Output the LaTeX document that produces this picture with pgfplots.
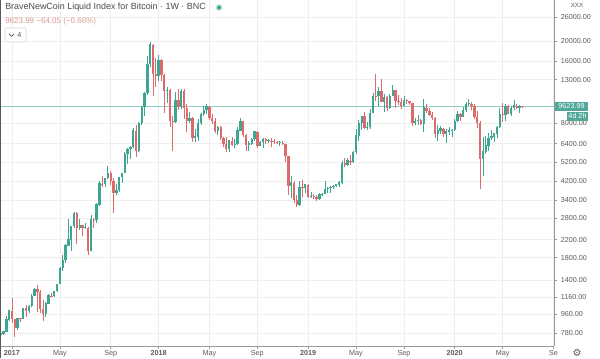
\documentclass[border=0pt]{standalone}
\usepackage{pgfplots}
\pgfplotsset{compat=1.18}
\usepackage{pgfplotstable}
\usepackage{fontspec}
\setmainfont{Liberation Sans}
\newfontfamily\dejavu{DejaVu Sans}
\definecolor{upc}{HTML}{3DA592}
\definecolor{dnc}{HTML}{DE6B6B}
\definecolor{gridc}{HTML}{EEEEEE}
\definecolor{axisc}{HTML}{9A9A9A}
\definecolor{labc}{HTML}{5A5A5A}
\definecolor{titlec}{HTML}{4A4A4A}
\definecolor{pricec}{HTML}{92CFC3}
\definecolor{boxc}{HTML}{4FA899}
\definecolor{salmon}{HTML}{D99A8E}

\pgfplotstableread{
i o h l c
-4 766 780 752 774
-3 774 796 765 790
-2 790 940 788 905
-1 905 1000 890 998
0 998 1150 870 910
1 910 915 750 820
2 820 920 810 920
3 920 925 880 915
4 915 1035 915 1025
5 1025 1065 930 1000
6 1000 1060 975 1050
7 1050 1200 1040 1175
8 1175 1290 1170 1270
9 1270 1330 980 1230
10 1230 1260 970 1020
11 1020 1120 890 965
12 965 1095 930 1080
13 1080 1200 1075 1180
14 1180 1220 1160 1170
15 1170 1250 1165 1245
16 1245 1350 1230 1340
17 1340 1620 1340 1600
18 1600 1850 1560 1750
19 1750 2100 1700 2060
20 2060 2760 2050 2200
21 2200 2550 1950 2550
22 2550 2980 2500 2960
23 2960 2980 2100 2500
24 2500 2780 2450 2580
25 2580 2600 2300 2500
26 2500 2650 2480 2510
27 2510 2530 1850 1930
28 1930 2900 1930 2750
29 2750 2800 2500 2730
30 2730 3300 2650 3250
31 3250 4200 3200 4100
32 4100 4480 3950 4080
33 4080 4380 3950 4350
34 4350 4980 4300 4600
35 4600 4700 4050 4200
36 4200 4350 2970 3700
37 3700 4100 3600 3800
38 3800 4400 3750 4400
39 4400 4600 4150 4590
40 4590 5850 4590 5700
41 5700 6100 5100 6000
42 6000 6200 5400 6150
43 6150 7600 6100 7400
44 7400 7900 5500 5900
45 5900 8100 5800 8000
46 8000 9700 7900 9600
47 9600 11400 8700 11200
48 11200 17000 11000 15500
49 15500 19800 15000 19200
50 19200 19300 10800 13900
51 13900 16500 12000 13500
52 13500 17200 12800 16200
53 16200 16300 12800 13700
54 13700 13900 9000 11500
55 11500 12000 10000 11600
56 11600 11800 7700 8200
57 8200 8700 5900 8100
58 8100 11300 8000 10400
59 10400 11700 9300 9600
60 9600 11700 9400 11500
61 11500 11700 8400 9500
62 9500 9900 7300 8200
63 8200 9100 8000 8500
64 8500 8600 6500 6800
65 6800 7500 6500 6900
66 6900 8400 6600 8000
67 8000 9000 7900 8900
68 8900 9700 8700 9300
69 9300 9950 8900 9650
70 9650 9700 8350 8500
71 8500 8900 7950 8200
72 8200 8500 7200 7350
73 7350 7750 7050 7700
74 7700 7750 6650 6800
75 6800 6850 6150 6400
76 6400 6850 5850 6000
77 6000 6650 5800 6600
78 6600 6850 6250 6300
79 6300 6700 6100 6350
80 6350 7700 6300 7400
81 7400 8500 7350 8200
82 8200 8250 6900 7050
83 7050 7150 5900 6300
84 6300 6600 5900 6400
85 6400 6800 6300 6700
86 6700 7400 6600 7300
87 7300 7400 6100 6250
88 6250 6600 6200 6500
89 6500 6800 6100 6700
90 6700 6800 6400 6600
91 6600 6700 6450 6620
92 6620 6800 6150 6550
93 6550 6750 6400 6500
94 6500 6550 6400 6450
95 6450 6550 6250 6470
96 6470 6550 6300 6350
97 6350 6400 5200 5550
98 5550 5600 3600 4000
99 4000 4450 3500 4150
100 4150 4200 3300 3400
101 3400 3600 3150 3250
102 3250 4200 3200 3950
103 3950 4250 3550 3900
104 3900 4100 3700 4050
105 4050 4100 3500 3550
106 3550 3750 3500 3560
107 3560 3650 3450 3540
108 3540 3600 3380 3450
109 3450 3700 3400 3650
110 3650 3700 3560 3660
111 3660 4200 3650 3850
112 3850 3950 3700 3900
113 3900 3980 3700 3950
114 3950 4050 3850 4000
115 4000 4100 3950 4050
116 4050 4200 3950 4150
117 4150 5300 4100 5150
118 5150 5450 4950 5050
119 5050 5450 5000 5300
120 5300 5650 5050 5200
121 5200 5900 5150 5800
122 5800 7500 5700 7000
123 7000 8300 6600 8000
124 8000 8700 7450 8700
125 8700 9100 7500 7650
126 7650 8100 7450 7700
127 7700 9350 7550 8950
128 8950 11200 8950 10850
129 10850 13850 10300 10800
130 10800 12000 9700 11450
131 11450 13100 11000 10200
132 10200 11100 9100 10750
133 10750 10800 9150 9500
134 9500 11100 9400 10800
135 10800 12300 10800 11550
136 11550 11550 9500 10300
137 10300 10950 9800 10150
138 10150 10600 9350 9700
139 9700 10900 9700 10350
140 10350 10450 9900 10300
141 10300 10300 9850 10000
142 10000 10050 7750 8050
143 8050 8500 7900 8200
144 8200 8750 7900 8300
145 8300 8400 7900 7950
146 7950 10500 7300 9550
147 9550 9900 8950 9200
148 9200 9550 8700 8800
149 8800 9100 8300 8500
150 8500 8550 6800 7150
151 7150 7850 6550 7400
152 7400 7750 7100 7550
153 7550 7650 6900 7100
154 7100 7500 6450 7300
155 7300 7700 7050 7380
156 7380 7550 6850 7420
157 7420 8450 7350 8180
158 8180 9200 8100 8900
159 8900 8950 8250 8600
160 8600 9600 8550 9300
161 9300 10150 9100 9900
162 9900 10500 9700 9950
163 9950 10200 9300 9700
164 9700 9950 8450 8550
165 8550 9200 7650 8000
166 8000 8200 3850 5400
167 5400 6900 4450 5850
168 5850 6950 5700 6250
169 6250 7200 5900 6800
170 6800 7450 6650 6900
171 6900 7200 6500 7150
172 7150 7750 6800 7700
173 7700 9450 7650 8900
174 8900 10000 8100 8750
175 8750 9900 8250 9700
176 9700 9850 8850 8900
177 8900 9750 8650 9450
178 9450 10400 9300 9750
179 9750 9950 9400 9450
180 9450 9800 8950 9688
181 9688 9750 9550 9624
}\btc

\pgfplotsset{
  candle/.style n args={2}{draw=none, mark=none, forget plot,
    error bars/.cd, y dir=plus, y explicit, error mark=none,
    error bar style={draw=#1, solid, line width=#2}},
}

\begin{document}
\begin{tikzpicture}
\path[use as bounding box] (0,0) rectangle (450pt,-268.5pt);
\begin{axis}[
  at={(0pt,-259.5pt)}, anchor=south west,
  scale only axis, width=415.5pt, height=259.5pt,
  ymode=log, ymin=675, ymax=31550,
  xmin=-4.255, xmax=192.2,
  axis x line*=bottom, axis y line*=right,
  axis line style={-, draw=axisc, line width=0.6pt},
  grid=major, major grid style={draw=gridc, line width=0.5pt},
  tick align=outside, major tick length=2pt,
  tick style={draw=axisc, line width=0.5pt},
  minor tick num=0,
  ytick={780,960,1160,1400,1800,2200,2800,3400,4200,5200,6400,8000,13000,16000,20000,26000,32000},
  yticklabels={780.00,960.00,1160.00,1400.00,1800.00,2200.00,2800.00,3400.00,4200.00,5200.00,6400.00,8000.00,13000.00,16000.00,20000.00,26000.00,32000.00},
  xtick={0,17,35,52,70,87,105,122,139,157,174,192},
  xticklabels={\textbf{2017},May,Sep,\textbf{2018},May,Sep,\textbf{2019},May,Sep,\textbf{2020},May,Se},
  ticklabel style={font=\fontsize{5.4}{6}\selectfont, text=labc, inner sep=0pt},
  yticklabel style={anchor=west, xshift=3pt},
  xticklabel style={anchor=north, yshift=-1.5pt},
  clip=true,
]
\addplot[draw=pricec, line width=0.55pt, forget plot] coordinates {(-5,9623.99) (193,9623.99)};
% wicks
\addplot[restrict expr to domain={\thisrow{c}-\thisrow{o}}{0:1000000},
  candle={upc}{0.6pt}]
  table[x=i, y=l, y error plus expr=\thisrow{h}-\thisrow{l}] {\btc};
\addplot[restrict expr to domain={\thisrow{c}-\thisrow{o}}{-1000000:-0.001},
  candle={dnc}{0.6pt}]
  table[x=i, y=l, y error plus expr=\thisrow{h}-\thisrow{l}] {\btc};
% bodies
\addplot[restrict expr to domain={\thisrow{c}-\thisrow{o}}{0:1000000},
  candle={upc}{1.75pt}]
  table[x=i, y=o, y error plus expr=\thisrow{c}-\thisrow{o}+0.004*\thisrow{o}] {\btc};
\addplot[restrict expr to domain={\thisrow{c}-\thisrow{o}}{-1000000:-0.001},
  candle={dnc}{1.75pt}]
  table[x=i, y=c, y error plus expr=\thisrow{o}-\thisrow{c}] {\btc};
\end{axis}
\begin{scope}[x=0.75pt, y=-0.75pt]
  \draw[gray!70!black, line width=0.9pt] (0.5,0) -- (0.5,358);
  \node[anchor=west, inner sep=0pt, text=titlec, font=\fontsize{6.7}{8}\selectfont] at (5,7.5) {BraveNewCoin Liquid Index for Bitcoin · 1W · BNC};
  \fill[upc!25] (219,7.5) circle (3.6);
  \fill[upc] (219,7.5) circle (2.1);
  \node[anchor=west, inner sep=0pt, text=salmon, font=\fontsize{6}{7}\selectfont] at (5,21) {9623.99 −64.05 (−0.66\%)};
  \draw[gray!35, fill=white, rounded corners=1.5] (5,28) rectangle (26,42);
  \draw[labc, line width=0.5pt] (9,33.8) -- (11.5,36.3) -- (14,33.8);
  \node[inner sep=0pt, text=labc, font=\fontsize{5.4}{6}\selectfont] at (19.5,35) {4};
  \fill[white] (558,1.5) rectangle (594,9);
  \node[inner sep=0pt, text=labc, font=\fontsize{4.6}{5}\selectfont] at (577,5.2) {XXX};
  \fill[boxc] (555,101.8) rectangle (588,110.8);
  \node[inner sep=0pt, text=white, font=\fontsize{5.4}{6}\selectfont] at (571.5,106.4) {9623.99};
  \fill[boxc] (567,111.8) rectangle (588,120.6);
  \node[inner sep=0pt, text=white, font=\fontsize{5.4}{6}\selectfont] at (577.5,116.3) {4d 2h};
  \node[inner sep=0pt, text=labc, font=\dejavu\fontsize{7.5}{8}\selectfont] at (577,352.5) {⚙};
\end{scope}
\end{tikzpicture}
\end{document}
